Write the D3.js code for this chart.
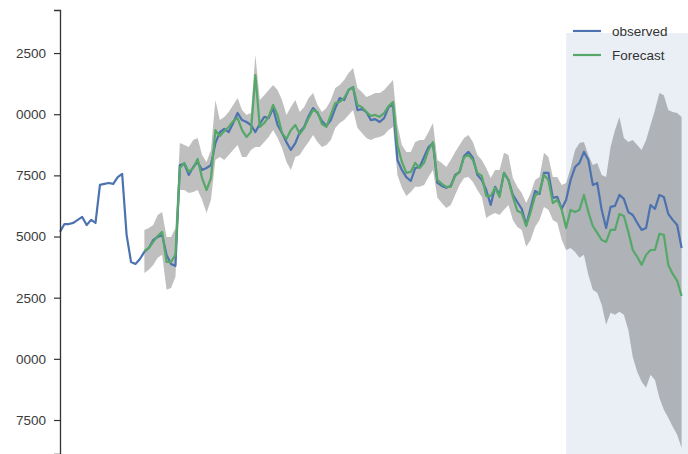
<!DOCTYPE html>
<html>
<head>
<meta charset="utf-8">
<script src="https://cdn.jsdelivr.net/npm/d3@7"></script>
<style>
  body { margin: 0; background: #fff; }
  text { font-family: "Liberation Sans", Arial, sans-serif; }
</style>
</head>
<body>
<div id="chart-area"></div>
<script>

// observed series, one value per period (index 0..140)
const observed = [
	15190,15510,15510,15560,15680,15800,15470,15680,15560,17110,
	17150,17190,17150,17430,17560,15070,13960,13880,14080,14370,
	14530,14860,14980,15070,14250,13880,13800,17920,17970,17520,
	17840,18050,17720,17800,17920,18820,19270,19400,19270,19640,
	20050,19760,19680,19560,19270,19600,19890,19840,20250,19560,
	19230,18860,18540,18820,19270,19480,19930,20250,20050,19720,
	19520,19760,20250,20660,20580,20990,21110,20170,20210,20090,
	19760,19800,19680,19840,20290,20380,18130,17720,17430,17270,
	17800,17840,18250,18660,18820,17190,17070,16990,17070,17520,
	17640,18290,18460,18210,17520,17310,16900,16290,17030,16700,
	17600,17310,16700,16410,16130,15470,16170,16860,16740,17600,
	17600,16580,16620,16130,16500,17310,17840,18010,18460,18130,
	17110,17190,16090,15350,16210,16250,16700,16540,16000,15880,
	15560,15270,15350,16290,16130,16700,16620,15920,15680,15470,
	14530
];

// forecast starts at this period
const forecastStart = 19;

const forecast = [
	14410,14530,14780,15020,15190,13960,13960,14250,17800,18010,
	17640,17800,18170,17390,16900,17390,19350,19110,19310,19480,
	19720,19840,19350,19070,19270,21600,19480,19640,19890,20380,
	19970,19230,18990,19350,19560,19190,19440,19840,20170,20090,
	19600,19480,19970,20460,20500,20660,20990,21110,20380,20290,
	20090,19930,19970,19890,20050,20330,20500,18740,18050,17600,
	17640,18010,17800,18010,18540,18860,17310,17150,17030,17030,
	17480,17640,18250,18330,18130,17600,17480,16660,16660,16990,
	16620,17600,17310,16620,16050,15960,15430,16000,16660,16820,
	17520,17310,16370,16500,16090,15350,16090,16000,16090,16700,
	16000,15430,15150,14860,14780,15270,15270,15920,15840,15190,
	14450,14170,13840,14250,14450,14450,15110,15070,13840,13470,
	13190,12570
];

const ciUpper = [
	15270,15350,15470,15880,16000,14980,14980,15350,18820,18740,
	18660,18950,19030,18330,18050,18540,20580,19760,19890,20090,
	20380,20660,20170,19970,20050,22420,20580,20780,20990,21190,
	20990,20580,19970,20290,20580,20090,20290,20660,20870,20380,
	20090,20250,20580,21070,21190,21400,21680,21890,21070,20910,
	20700,20780,20870,20870,20990,21190,21400,19560,18740,18460,
	18460,18860,18950,18950,19270,19640,18130,18010,17840,18130,
	18460,18740,19030,19150,18860,18330,18130,17800,17390,17720,
	17720,18420,18330,17390,17030,16780,16370,16780,17310,17430,
	18420,18250,17430,17430,17110,17190,17800,18540,18820,18860,
	18330,17920,18010,17520,17430,18660,19350,19890,19030,18860,
	18950,18740,18540,18950,19560,20170,20870,20780,20170,20090,
	20050,19890
];

const ciLower = [
	13510,13640,13840,14130,14250,12820,12900,13350,16900,16900,
	16780,16820,16900,16500,15960,16500,18130,18250,18130,18330,
	18540,18740,18250,18250,18540,18660,18660,18860,19070,19350,
	19030,18620,18050,17720,18250,18330,18620,18860,19150,18860,
	18660,18740,18950,19440,19640,19760,19970,20170,19440,19230,
	19030,18950,19030,19070,19150,19350,19480,17520,16990,16660,
	16820,17030,17030,17110,17430,17720,16580,16370,16170,16290,
	16700,17110,17390,17430,17230,16900,16620,15760,15880,15960,
	15880,16090,16290,15680,15390,15270,14580,14860,15390,15680,
	16210,16090,15680,15560,14860,14450,14530,14370,14130,14250,
	13430,12820,12700,12210,11390,11880,11800,11920,11800,11180,
	10080,9470,9060,8820,9350,9140,8410,7920,7590,7220,
	6900,6360
];

// out-of-sample period (shaded)
const spanPeriods = [114, 142];
const spanTop = 23320;

const yTicks = [22500, 20000, 17500, 15000, 12500, 10000, 7500];
const seriesNames = ["observed", "Forecast"];
const seriesColors = ["#4c72b0", "#55a868"];

let width = 688, height = 454;

let svg = d3.select("#chart-area").append("svg")
	.attr("width", width)
	.attr("height", height)

let x = d3.scaleLinear().domain([0, 140]).range([60, 681.6]);
let y = d3.scaleLinear().domain([6110, 24260]).range([454, 10]);

let fc = forecast.map(function(d, i) {
	return { i: i + forecastStart, v: d, lo: ciLower[i], hi: ciUpper[i] };
});

// shaded forecast span
svg.append("rect")
	.attr("x", x(spanPeriods[0]))
	.attr("y", y(spanTop))
	.attr("width", x(spanPeriods[1]) - x(spanPeriods[0]))
	.attr("height", height - y(spanTop))
	.attr("fill", "#eaeff6");

// confidence band
svg.append("path")
	.datum(fc)
	.attr("fill", "#000")
	.attr("fill-opacity", 0.25)
	.attr("d", d3.area()
		.x(function(d) { return x(d.i) })
		.y0(function(d) { return y(d.lo) })
		.y1(function(d) { return y(d.hi) }));

let line = d3.line()
	.x(function(d) { return x(d.i) })
	.y(function(d) { return y(d.v) });

svg.append("path")
	.datum(observed.map(function(d, i) { return { i: i, v: d } }))
	.attr("fill", "none")
	.attr("stroke", seriesColors[0])
	.attr("stroke-width", 2.2)
	.attr("stroke-linejoin", "round")
	.attr("d", line);

svg.append("path")
	.datum(fc)
	.attr("fill", "none")
	.attr("stroke", seriesColors[1])
	.attr("stroke-width", 2.2)
	.attr("stroke-linejoin", "round")
	.attr("d", line);

// left axis, labels cropped at the left like the reference
svg.append("clipPath").attr("id", "crop")
	.append("rect").attr("x", 16 - 60).attr("y", 0).attr("width", width).attr("height", height);

let axis = svg.append("g")
	.attr("transform", "translate(60,0)")
	.attr("clip-path", "url(#crop)")
	.call(d3.axisLeft(y).tickValues(yTicks).tickSize(6).tickPadding(8).tickFormat(d3.format("d")));

axis.select(".domain").attr("stroke", "#333").attr("stroke-width", 1.3);
axis.selectAll(".tick line").attr("stroke", "#333").attr("stroke-width", 1.2);
axis.selectAll(".tick text")
	.attr("fill", "#3a3a3a")
	.style("font-family", "'Liberation Sans', Arial, sans-serif")
	.style("font-size", "13.5px");

// legend
let legend = svg.append("g");
seriesNames.forEach(function(name, k) {
	let ly = 31 + k * 24;
	legend.append("line")
		.attr("x1", 573).attr("x2", 601)
		.attr("y1", ly).attr("y2", ly)
		.attr("stroke", seriesColors[k])
		.attr("stroke-width", 2.2);
	legend.append("text")
		.attr("x", 612)
		.attr("y", ly)
		.attr("dy", "0.35em")
		.attr("fill", "#333")
		.style("font-size", "13.5px")
		.text(name);
});

</script>
</body>
</html>
